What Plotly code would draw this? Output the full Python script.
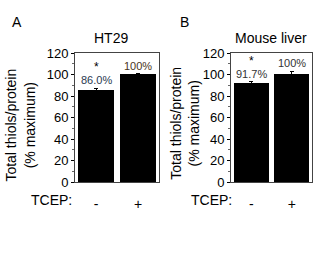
import plotly.graph_objects as go

W, H = 320, 255

categories = ["-", "+"]
ht29_values = [86.0, 100.0]
ht29_errors = [1.5, 1.0]
ht29_labels = ["86.0%", "100%"]
liver_values = [91.7, 100.0]
liver_errors = [1.5, 3.0]
liver_labels = ["91.7%", "100%"]
y_ticks = [0, 20, 40, 60, 80, 100, 120]

FONT = "Liberation Sans, Arial, sans-serif"

def px_x(p):
    return p / W

def px_y(p):
    return 1 - p / H

fig = go.Figure()

xpos = [0, 1]
fig.add_trace(go.Bar(x=xpos, y=ht29_values, width=0.86, marker=dict(color="black", line=dict(width=0)),
                     error_y=dict(type="data", array=ht29_errors, color="black", thickness=1, width=2),
                     xaxis="x", yaxis="y", showlegend=False))
fig.add_trace(go.Bar(x=xpos, y=liver_values, width=0.86, marker=dict(color="black", line=dict(width=0)),
                     error_y=dict(type="data", array=liver_errors, color="black", thickness=1, width=2),
                     xaxis="x2", yaxis="y2", showlegend=False))

ydom = [px_y(186), px_y(49)]
xcommon = dict(range=[-0.5, 1.5], tickvals=xpos, ticktext=categories, ticks="", showgrid=False,
               zeroline=False, showline=True, linecolor="#444", linewidth=1, mirror=True,
               tickfont=dict(family=FONT, size=14, color="black"), ticklabelstandoff=9, fixedrange=True)
ycommon = dict(range=[0, 120], tickvals=y_ticks, ticks="outside", ticklen=3, tickcolor="black",
               showgrid=False, zeroline=False, showline=True, linecolor="#444", linewidth=1, mirror=True,
               tickfont=dict(family=FONT, size=13, color="black"),
               minor=dict(dtick=10, ticks="outside", ticklen=2, tickcolor="#666"), fixedrange=True)

fig.update_layout(
    width=W, height=H, margin=dict(l=0, r=0, t=0, b=0),
    paper_bgcolor="white", plot_bgcolor="white",
    xaxis=dict(domain=[px_x(75), px_x(159)], anchor="y", **xcommon),
    yaxis=dict(domain=ydom, anchor="x", **ycommon),
    xaxis2=dict(domain=[px_x(231), px_x(312)], anchor="y2", **xcommon),
    yaxis2=dict(domain=ydom, anchor="x2", **ycommon),
    bargap=0,
)

ann = []
def txt(x, y, t, size=13, color="black", angle=0, xref="paper", yref="paper", yshift=0, yanchor="middle"):
    ann.append(dict(x=x, y=y, xref=xref, yref=yref, text=t, showarrow=False, textangle=angle,
                    font=dict(family=FONT, size=size, color=color), xanchor="center", yanchor=yanchor,
                    yshift=yshift))

# panel letters and titles
txt(px_x(17), px_y(16), "A", size=14)
txt(px_x(184), px_y(16), "B", size=14)
txt(px_x(111), px_y(33), "HT29", size=14)
txt(px_x(271), px_y(33), "Mouse liver", size=14)
# y titles
txt(px_x(20), px_y(126), "Total thiols/protein<br>(% maximum)", size=14, angle=-90)
txt(px_x(185), px_y(124), "Total thiols/protein<br>(% maximum)", size=14, angle=-90)
# TCEP labels
txt(px_x(51), px_y(205), "TCEP:", size=14)
txt(px_x(211), px_y(205), "TCEP:", size=14)

# bar labels
for xr, yr, vals, errs, labs, colors in [("x", "y", ht29_values, ht29_errors, ht29_labels, ["#2b3a4f", "#4a3422"]),
                                        ("x2", "y2", liver_values, liver_errors, liver_labels, ["#333333", "#333333"])]:
    for i, (v, e, l) in enumerate(zip(vals, errs, labs)):
        ann.append(dict(x=xpos[i], y=v + e, xref=xr, yref=yr, text=l, showarrow=False,
                        font=dict(family=FONT, size=11, color=colors[i]), yanchor="bottom", yshift=0))
    ann.append(dict(x=xpos[0], y=vals[0] + errs[0], xref=xr, yref=yr, text="*", showarrow=False,
                    font=dict(family=FONT, size=12, color="black"), yanchor="bottom", yshift=12))

fig.update_layout(annotations=ann)
fig.write_html("out.html", config={"displayModeBar": False},
               post_script="document.body.style.margin='0';document.body.style.overflow='hidden';")
